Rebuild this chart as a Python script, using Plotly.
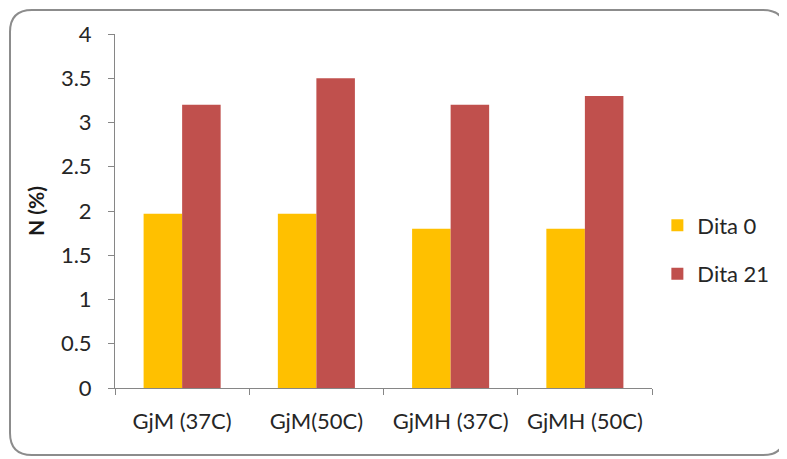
import plotly.graph_objects as go

categories = ['GjM (37C)', 'GjM(50C)', 'GjMH (37C)', 'GjMH (50C)']
dita_0 = [1.97, 1.97, 1.8, 1.8]
dita_21 = [3.2, 3.5, 3.2, 3.3]

# page body adds 8px margin, so the figure is shrunk to fit the window
W, H = 779, 451
ML, MR, MT, MB = 107, 135, 18, 71

fig = go.Figure()
fig.add_trace(go.Bar(x=categories, y=dita_0, name='Dita 0',
                     marker=dict(color='#FFC000', line=dict(width=0)),
                     legendgroup='a'))
fig.add_trace(go.Bar(x=categories, y=dita_21, name='Dita 21',
                     marker=dict(color='#C0504D', line=dict(width=0)),
                     legendgroup='b'))

# rounded chart border (pixels, relative to plot origin)
pw, ph = W - ML - MR, H - MT - MB
x0, x1 = 2 - ML, W - 2 - ML
y0, y1 = -(MB - 4), ph + MT - 2
r = 22
path = (f'M {x0 + r},{y1} L {x1 - r},{y1} Q {x1},{y1} {x1},{y1 - r} '
        f'L {x1},{y0 + r} Q {x1},{y0} {x1 - r},{y0} L {x0 + r},{y0} '
        f'Q {x0},{y0} {x0},{y0 + r} L {x0},{y1 - r} Q {x0},{y1} {x0 + r},{y1} Z')
fig.add_shape(type='path', path=path, xref='paper', yref='paper',
              xsizemode='pixel', ysizemode='pixel', xanchor=0, yanchor=0,
              line=dict(color='#8C8C8C', width=2), layer='below')

fig.add_annotation(text='<b>N (%)</b>', xref='paper', yref='paper',
                   x=(27 - ML) / pw, y=0.5, xanchor='center', yanchor='middle',
                   textangle=-90, showarrow=False,
                   font=dict(size=21, color='#1a1a1a'))

fig.update_layout(
    width=W, height=H,
    margin=dict(l=ML, r=MR, t=MT, b=MB),
    paper_bgcolor='white', plot_bgcolor='white',
    barmode='group', bargap=0.426, bargroupgap=0,
    font=dict(family='Lato, Open Sans, sans-serif', size=22, color='#262626'),
    showlegend=True,
    legend=dict(x=1.01, y=0.39, xanchor='left', yanchor='middle',
                font=dict(size=22, color='#262626'), tracegroupgap=17,
                itemwidth=30, bgcolor='rgba(0,0,0,0)'),
    xaxis=dict(showline=True, linecolor='#868686', linewidth=1,
               ticks='outside', tickson='boundaries', ticklen=6,
               tickcolor='#868686', showgrid=False, ticklabelstandoff=14),
    yaxis=dict(range=[0, 4], dtick=0.5, showline=True, linecolor='#868686',
               linewidth=1, ticks='outside', ticklen=6, tickcolor='#868686',
               showgrid=False, zeroline=False, ticklabelstandoff=12),
)

fig.write_html('out.html')
